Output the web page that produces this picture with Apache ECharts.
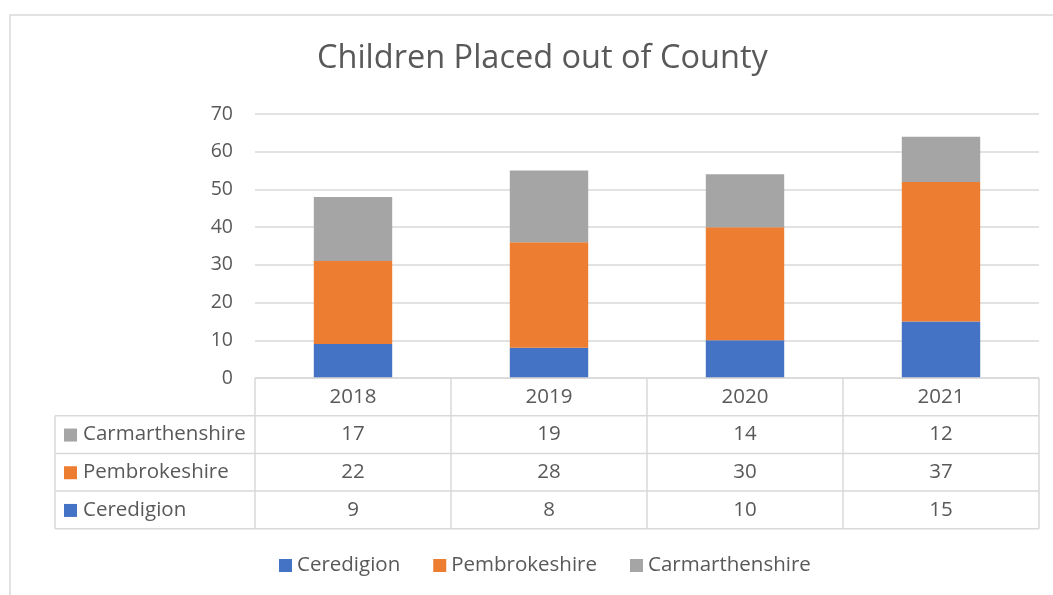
<!DOCTYPE html>
<html><head><meta charset="utf-8">
<script src="https://cdn.jsdelivr.net/npm/echarts@6/dist/echarts.min.js"></script>
<style>html,body{margin:0;padding:0;background:#fff}#c{width:1053px;height:595px}</style>
</head><body><div id="c"></div>
<script>
const categories = ['2018', '2019', '2020', '2021'];
const ceredigion = [9, 8, 10, 15];
const pembrokeshire = [22, 28, 30, 37];
const carmarthenshire = [17, 19, 14, 12];
const seriesNames = ['Ceredigion', 'Pembrokeshire', 'Carmarthenshire'];
const colors = ['#4472C4', '#ED7D31', '#A5A5A5'];
const yTicks = { min: 0, max: 70, interval: 10 };

const FONT = 'Open Sans';
const TXT = '#595959';
const LINE = '#d9d9d9';

const chart = echarts.init(document.getElementById('c'), null, { renderer: 'canvas' });
const seriesData = [ceredigion, pembrokeshire, carmarthenshire];

const option = {
  animation: false,
  textStyle: { fontFamily: FONT },
  title: {
    text: 'Children Placed out of County',
    left: 312, top: 37,
    textStyle: { fontFamily: FONT, fontSize: 32.5, fontWeight: 'normal', color: TXT }
  },
  legend: {
    bottom: 14, left: 274,
    itemWidth: 13, itemHeight: 13, itemGap: 33,
    icon: 'rect',
    textStyle: { fontFamily: FONT, fontSize: 20.5, color: TXT },
    data: seriesNames
  },
  grid: { left: 255, right: 14, top: 114, bottom: 217, containLabel: false },
  xAxis: {
    type: 'category', data: categories,
    axisLine: { show: false }, axisTick: { show: false }, axisLabel: { show: false }
  },
  yAxis: {
    type: 'value', min: yTicks.min, max: yTicks.max, interval: yTicks.interval,
    axisLine: { show: false }, axisTick: { show: false },
    axisLabel: { fontFamily: FONT, fontSize: 19.5, color: TXT, margin: 22 },
    splitLine: { lineStyle: { color: LINE, width: 1.5 } }
  },
  series: seriesNames.map((n, i) => ({
    name: n, type: 'bar', stack: 'total', data: seriesData[i],
    barWidth: '40%', itemStyle: { color: colors[i] }
  }))
};
chart.setOption(option);

// Build data table with graphic elements
const gridRect = chart.getModel().getComponent('grid', 0).coordinateSystem.getRect();
const gLeft = gridRect.x, gRight = gridRect.x + gridRect.width, gBottom = gridRect.y + gridRect.height;
const rowH = 37.7;
const labelLeft = 55;
const bandW = gridRect.width / categories.length;
const g = [];
g.push({ type: 'rect', shape: { x: 10, y: 15, width: 1100, height: 700 }, style: { fill: 'none', stroke: '#d9d9d9', lineWidth: 1.5 } });
const ys = [0, 1, 2, 3, 4].map(i => gBottom + i * rowH);
ys.forEach((y, i) => {
  g.push({ type: 'line', shape: { x1: i === 0 ? gLeft : labelLeft, y1: y, x2: gRight, y2: y }, style: { stroke: LINE, lineWidth: 1.5 } });
});
g.push({ type: 'line', shape: { x1: labelLeft, y1: ys[1], x2: labelLeft, y2: ys[4] }, style: { stroke: LINE, lineWidth: 1.5 } });
for (let k = 0; k <= categories.length; k++) {
  const x = gLeft + k * bandW;
  g.push({ type: 'line', shape: { x1: x, y1: ys[0], x2: x, y2: ys[4] }, style: { stroke: LINE, lineWidth: 1.5 } });
}
const fontStr = '20.5px "' + FONT + '"';
categories.forEach((c) => {
  const cx = chart.convertToPixel({ xAxisIndex: 0 }, c);
  g.push({ type: 'text', x: cx, y: ys[0] + rowH / 2, style: { text: c, fill: TXT, font: fontStr, align: 'center', verticalAlign: 'middle' } });
});
const rowOrder = [2, 1, 0];
rowOrder.forEach((si, r) => {
  const yc = ys[r + 1] + rowH / 2;
  g.push({ type: 'rect', shape: { x: 64, y: yc - 6, width: 13, height: 13 }, style: { fill: colors[si] } });
  g.push({ type: 'text', x: 83, y: yc, style: { text: seriesNames[si], fill: TXT, font: fontStr, align: 'left', verticalAlign: 'middle' } });
  categories.forEach((c, k) => {
    const cx = chart.convertToPixel({ xAxisIndex: 0 }, c);
    g.push({ type: 'text', x: cx, y: yc, style: { text: String(seriesData[si][k]), fill: TXT, font: fontStr, align: 'center', verticalAlign: 'middle' } });
  });
});
chart.setOption({ graphic: g.map(e => Object.assign({ silent: true, z: 10 }, e)) });
</script>
</body></html>
